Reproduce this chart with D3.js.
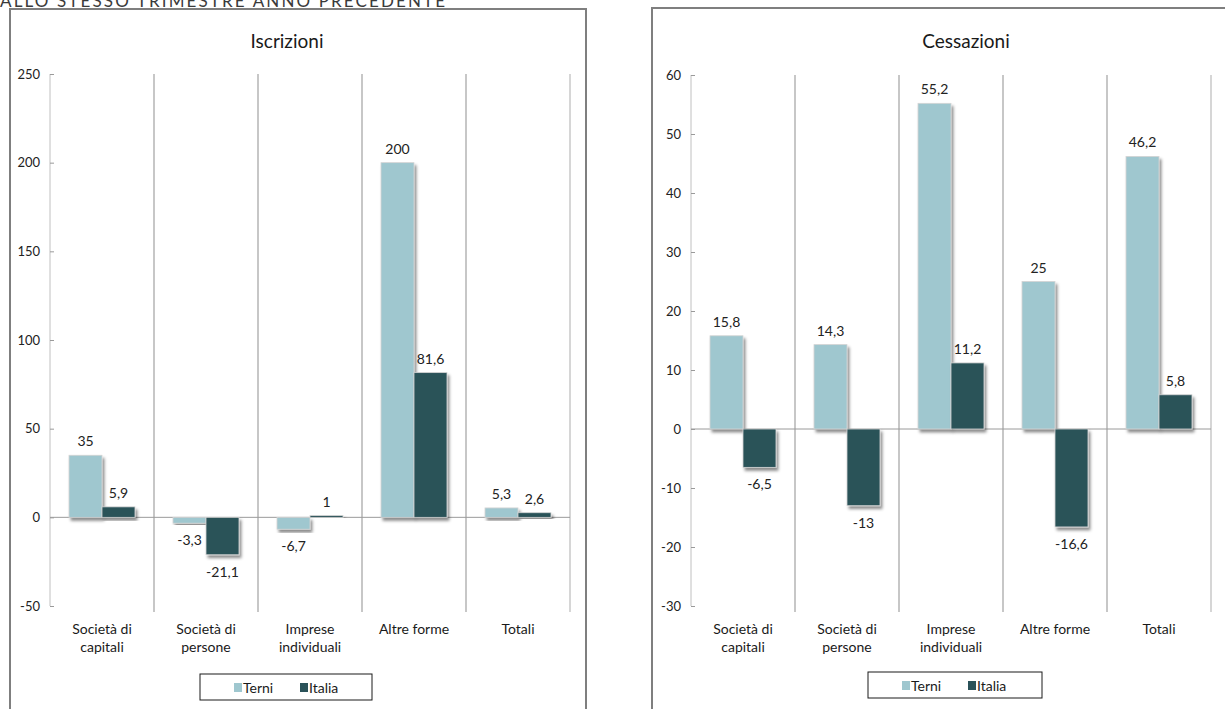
<!DOCTYPE html>
<html>
<head>
<meta charset="utf-8">
<script src="https://cdn.jsdelivr.net/npm/d3@7"></script>
<style>
  html, body { margin: 0; padding: 0; background: #ffffff; }
  svg { display: block; font-family: "Lato", "Open Sans", sans-serif; }
</style>
</head>
<body>
<svg id="chart" width="1225" height="709"></svg>
<script>
// Variazioni % per forma giuridica, Terni vs Italia
const categories = ["Società di\ncapitali", "Società di\npersone", "Imprese\nindividuali", "Altre forme", "Totali"];
const seriesNames = ["Terni", "Italia"];

const iscrizioniTerni  = [35, -3.3, -6.7, 200, 5.3];
const iscrizioniItalia = [5.9, -21.1, 1, 81.6, 2.6];
const iscrizioniTicks  = [-50, 0, 50, 100, 150, 200, 250];

const cessazioniTerni  = [15.8, 14.3, 55.2, 25, 46.2];
const cessazioniItalia = [-6.5, -13, 11.2, -16.6, 5.8];
const cessazioniTicks  = [-30, -20, -10, 0, 10, 20, 30, 40, 50, 60];

const colors = { Terni: "#9fc7cf", Italia: "#2a5259" };
const fmt = v => String(v).replace(".", ",");

const svg = d3.select("#chart");

// drop shadow used by the bars
const defs = svg.append("defs");
const f = defs.append("filter").attr("id", "barShadow")
  .attr("x", "-20%").attr("y", "-20%").attr("width", "150%").attr("height", "150%");
f.append("feDropShadow").attr("dx", 2).attr("dy", 3).attr("stdDeviation", 1.4)
  .attr("flood-color", "#000").attr("flood-opacity", 0.45);

// heading, partly above the top edge
svg.append("text")
  .attr("x", 0).attr("y", 7)
  .attr("textLength", 445).attr("lengthAdjust", "spacing")
  .attr("font-size", 17).attr("fill", "#3a3a3a")
  .text("ALLO STESSO TRIMESTRE ANNO PRECEDENTE");

function drawPanel(opt) {
  const g = svg.append("g");

  // chart frame
  g.append("rect")
    .attr("x", opt.frame[0]).attr("y", opt.frameTop)
    .attr("width", opt.frame[1] - opt.frame[0]).attr("height", 800)
    .attr("fill", "#fff").attr("stroke", "#7f7f7f").attr("stroke-width", 2);

  const y = d3.scaleLinear().domain(opt.domain).range([opt.bottom, opt.top]);
  const x = d3.scaleBand().domain(categories).range([opt.left, opt.right]).padding(0);
  const xs = d3.scaleBand().domain(seriesNames).range([0, x.bandwidth()])
    .paddingInner(0).paddingOuter(0.576);

  // title
  g.append("text").attr("x", opt.titleX).attr("y", 48)
    .attr("text-anchor", "middle").attr("font-size", 19).attr("fill", "#1a1a1a")
    .text(opt.title);

  // category separators
  const seps = d3.range(categories.length + 1).map(i => i === categories.length ? opt.right : x(categories[i]));
  g.selectAll(".sep").data(seps.slice(1)).join("line")
    .attr("x1", d => d).attr("x2", d => d)
    .attr("y1", opt.top).attr("y2", opt.bottom + 6)
    .attr("stroke", (d, i) => i === seps.length - 2 ? "#c8c8c8" : "#8f8f8f")
    .attr("stroke-width", (d, i) => i === seps.length - 2 ? 1.5 : 1);

  // value axis
  const yAxis = d3.axisLeft(y).tickValues(opt.ticks).tickSize(-4).tickPadding(10)
    .tickFormat(d => d);
  const ag = g.append("g").attr("transform", `translate(${opt.left},0)`).call(yAxis);
  ag.select(".domain").attr("stroke", "#c0c0c0").attr("d", `M0,${opt.top}V${opt.bottom}`);
  ag.selectAll(".tick line").attr("stroke", "#9a9a9a");
  ag.selectAll(".tick text").attr("font-size", 13).attr("fill", "#222")
    .attr("font-family", "Lato, sans-serif");

  // zero line
  g.append("line").attr("x1", opt.left).attr("x2", opt.right)
    .attr("y1", y(0)).attr("y2", y(0)).attr("stroke", "#9a9a9a").attr("stroke-width", 1);

  // bars
  const rows = [];
  categories.forEach((c, i) => {
    rows.push({ cat: c, s: "Terni", v: opt.terni[i] });
    rows.push({ cat: c, s: "Italia", v: opt.italia[i] });
  });
  g.selectAll(".bar").data(rows).join("rect")
    .attr("x", d => x(d.cat) + xs(d.s))
    .attr("width", xs.bandwidth())
    .attr("y", d => y(Math.max(0, d.v)))
    .attr("height", d => Math.abs(y(d.v) - y(0)))
    .attr("fill", d => colors[d.s])
    .attr("stroke", "#d4d4d4").attr("stroke-width", 0.8)
    .attr("filter", "url(#barShadow)");

  // value labels
  g.selectAll(".lbl").data(rows).join("text")
    .attr("x", d => x(d.cat) + xs(d.s) + xs.bandwidth() / 2)
    .attr("y", d => d.v >= 0 ? y(d.v) - 9 : y(d.v) + 22)
    .attr("text-anchor", "middle").attr("font-size", 14).attr("fill", "#222")
    .text(d => fmt(d.v));

  // category labels
  categories.forEach(c => {
    const lines = c.split("\n");
    const t = g.append("text").attr("text-anchor", "middle")
      .attr("font-size", 14).attr("fill", "#1a1a1a");
    lines.forEach((ln, k) => {
      t.append("tspan").attr("x", x(c) + x.bandwidth() / 2)
        .attr("y", opt.bottom + 28 + k * 18).text(ln);
    });
  });

  // legend
  const lg = g.append("g").attr("transform", `translate(${opt.legend[0]},${opt.legend[1]})`);
  lg.append("rect").attr("width", opt.legend[2]).attr("height", 26)
    .attr("fill", "#fff").attr("stroke", "#1a1a1a").attr("stroke-width", 1);
  seriesNames.forEach((s, k) => {
    const ox = 34 + k * 66;
    lg.append("rect").attr("x", ox).attr("y", 9).attr("width", 8).attr("height", 9)
      .attr("fill", colors[s]);
    lg.append("text").attr("x", ox + 9).attr("y", 18.5).attr("font-size", 14)
      .attr("fill", "#1a1a1a").text(s);
  });
}

drawPanel({
  title: "Iscrizioni", titleX: 287,
  frame: [10, 586], frameTop: 9,
  left: 50, right: 570, top: 74, bottom: 606,
  domain: [-50, 250], ticks: iscrizioniTicks,
  terni: iscrizioniTerni, italia: iscrizioniItalia,
  legend: [200, 674, 172]
});

drawPanel({
  title: "Cessazioni", titleX: 966,
  frame: [652, 1228], frameTop: 8,
  left: 691, right: 1211, top: 75, bottom: 606,
  domain: [-30, 60], ticks: cessazioniTicks,
  terni: cessazioniTerni, italia: cessazioniItalia,
  legend: [868, 672, 174]
});
</script>
</body>
</html>
